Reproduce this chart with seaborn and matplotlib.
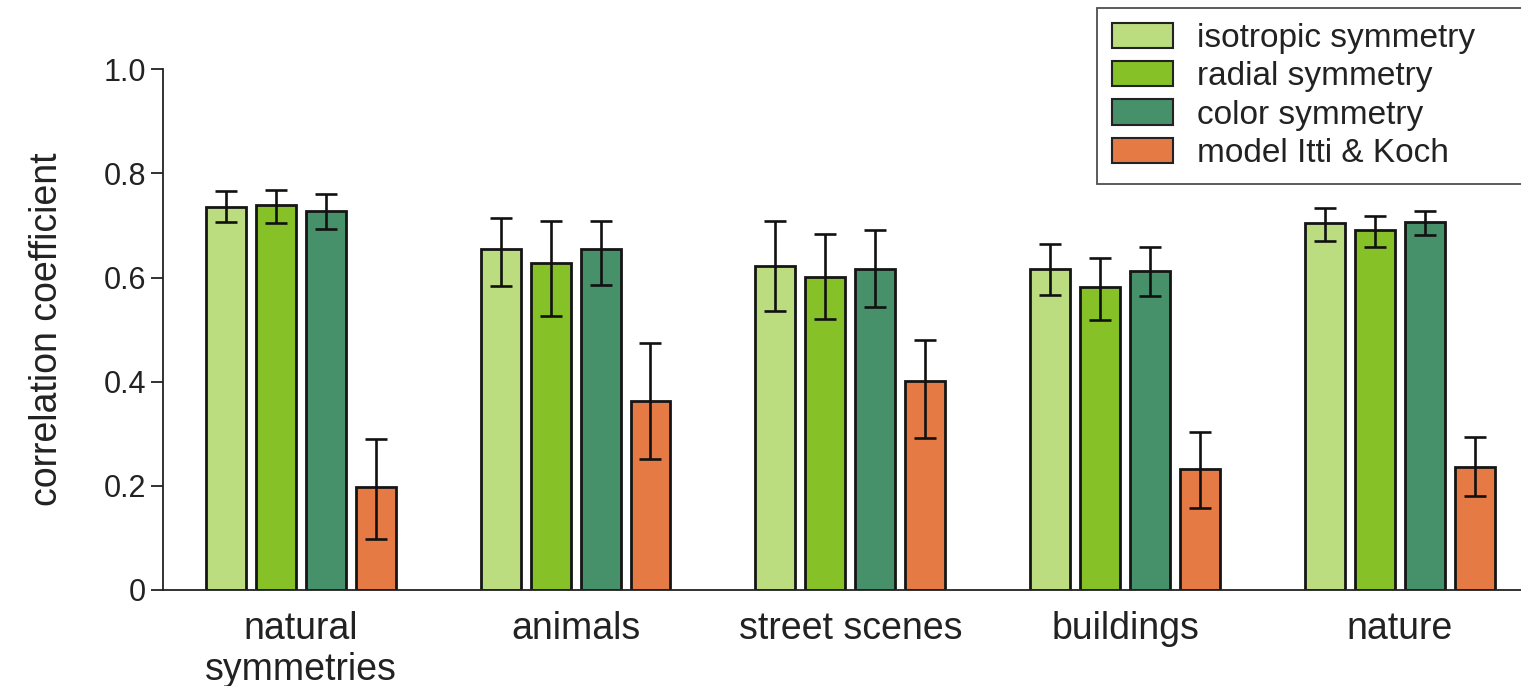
import matplotlib
matplotlib.use("Agg")
import matplotlib.pyplot as plt
import numpy as np
import pandas as pd
import seaborn as sns

# Data: mean correlation coefficient per category and method, with error-bar ends
categories = ["natural\nsymmetries", "animals", "street scenes", "buildings", "nature"]
methods = ["isotropic symmetry", "radial symmetry", "color symmetry", "model Itti & Koch"]

isotropic = [0.736, 0.654, 0.623, 0.616, 0.704]
radial = [0.739, 0.627, 0.602, 0.581, 0.692]
color_sym = [0.727, 0.654, 0.617, 0.612, 0.706]
itti_koch = [0.197, 0.362, 0.401, 0.232, 0.236]

isotropic_lo = [0.707, 0.583, 0.535, 0.566, 0.671]
isotropic_hi = [0.766, 0.715, 0.709, 0.665, 0.733]
radial_lo = [0.704, 0.526, 0.521, 0.518, 0.659]
radial_hi = [0.769, 0.708, 0.683, 0.637, 0.719]
color_lo = [0.694, 0.586, 0.544, 0.564, 0.682]
color_hi = [0.760, 0.709, 0.692, 0.658, 0.728]
itti_lo = [0.098, 0.252, 0.292, 0.157, 0.181]
itti_hi = [0.290, 0.475, 0.480, 0.304, 0.294]

yticks = [0, 0.2, 0.4, 0.6, 0.8, 1.0]
ytick_labels = ["0", "0.2", "0.4", "0.6", "0.8", "1.0"]

palette = ["#BBDD7F", "#86C128", "#46906A", "#E57A45"]

values = [isotropic, radial, color_sym, itti_koch]
lows = [isotropic_lo, radial_lo, color_lo, itti_lo]
highs = [isotropic_hi, radial_hi, color_hi, itti_hi]

df = pd.DataFrame({
    "category": [c for m in methods for c in categories],
    "method": [m for m in methods for c in categories],
    "r": [v for series in values for v in series],
})

sns.set_theme(style="white")
plt.rcParams["font.family"] = ["Liberation Sans", "DejaVu Sans"]

fig = plt.figure(figsize=(15.21, 6.86), dpi=100)
ax = fig.add_axes([0.107, 0.140, 0.893, 0.759])

sns.barplot(data=df, x="category", y="r", hue="method", order=categories,
            hue_order=methods, palette=palette, width=0.727, gap=0.2,
            errorbar=None, edgecolor="#151515", linewidth=2.0, saturation=1,
            ax=ax, legend=True)

# Asymmetric error bars on each bar
for container, vals, lo, hi in zip(ax.containers, values, lows, highs):
    xs = [b.get_x() + b.get_width() / 2 for b in container]
    vals = np.asarray(vals)
    yerr = np.vstack([vals - np.asarray(lo), np.asarray(hi) - vals])
    ax.errorbar(xs, vals, yerr=yerr, fmt="none", ecolor="#111111",
                elinewidth=1.9, capsize=8, capthick=1.9, zorder=5)

ax.set_ylim(0, 1.0)
ax.set_xlim(-0.502, 4.44)
ax.set_yticks(yticks)
ax.set_yticklabels(ytick_labels, fontsize=22, color="#222222")
ax.tick_params(axis="y", direction="out", length=9, width=1.3, color="#222222",
               left=True, pad=3)
ax.tick_params(axis="x", length=0, labelsize=27, labelcolor="#222222", pad=15)
ax.set_xlabel("")
ax.set_ylabel("correlation coefficient", fontsize=27, color="#222222", labelpad=28)

for side in ["top", "right"]:
    ax.spines[side].set_visible(False)
for side in ["left", "bottom"]:
    ax.spines[side].set_color("#222222")
    ax.spines[side].set_linewidth(1.3)

handles, labels = ax.get_legend_handles_labels()
ax.get_legend().remove()
leg = fig.legend(handles, labels, loc="upper left",
                 bbox_to_anchor=(0.721, 0.989, 0.285, 0), mode="expand",
                 fontsize=24, frameon=True, fancybox=False, handlelength=1.85,
                 handleheight=0.8, handletextpad=0.7, labelspacing=0.21,
                 borderpad=0.45, borderaxespad=0)
leg.get_frame().set_edgecolor("#222222")
leg.get_frame().set_linewidth(1.3)
for t in leg.get_texts():
    t.set_color("#222222")
for h in leg.legend_handles:
    h.set_edgecolor("#222222")
    h.set_linewidth(1.5)

fig.savefig("out.png", dpi=100, facecolor="white")
